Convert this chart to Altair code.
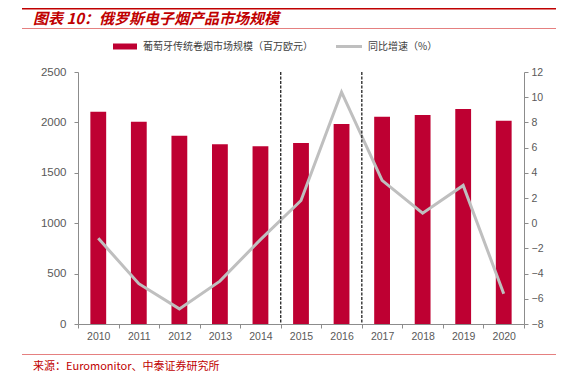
import altair as alt
import pandas as pd

years = [str(y) for y in range(2010, 2021)]
market = [2106, 2007, 1868, 1782, 1763, 1796, 1984, 2057, 2073, 2133, 2017]
growth = [-1.2, -4.8, -6.8, -4.6, -1.3, 1.8, 10.4, 3.4, 0.8, 3.0, -5.6]
split_years = ["2015", "2017"]
left_ticks = [0, 500, 1000, 1500, 2000, 2500]
right_ticks = [-8, -6, -4, -2, 0, 2, 4, 6, 8, 10, 12]

title_text = "图表 10：俄罗斯电子烟产品市场规模"
legend_bar = "葡萄牙传统卷烟市场规模（百万欧元）"
legend_line = "同比增速（%）"
source_text = "来源：Euromonitor、中泰证券研究所"

df = pd.DataFrame({"year": years, "market": market, "growth": growth})
splits = pd.DataFrame({"year": split_years})
dummy = pd.DataFrame({"a": [0]})

RED = "#BE0032"
GRAY_LINE = "#BFBFBF"
xscale = alt.Scale(domain=years, paddingInner=0, paddingOuter=0)

bars = alt.Chart(df).mark_bar(color=RED, width=alt.RelativeBandSize(0.39)).encode(
    x=alt.X("year:N", scale=xscale,
            axis=alt.Axis(title=None, labelAngle=0, tickBand="extent", labelFontSize=10.5,
                          labelPadding=3)),
    y=alt.Y("market:Q", scale=alt.Scale(domain=[0, 2500]),
            axis=alt.Axis(title=None, values=left_ticks, format="d", labelPadding=8,
                          labelFontSize=11.5)),
)

line = alt.Chart(df).mark_line(color=GRAY_LINE, strokeWidth=3).encode(
    x=alt.X("year:N", scale=xscale),
    y=alt.Y("growth:Q", scale=alt.Scale(domain=[-8, 12]),
            axis=alt.Axis(title=None, orient="right", values=right_ticks, format="d",
                          labelPadding=3, labelFontSize=10.5)),
)

rules = alt.Chart(splits).mark_rule(color="#222222", strokeDash=[3, 1.5], strokeWidth=1.3).encode(
    x=alt.X("year:N", scale=xscale, bandPosition=0),
)

base = alt.Chart(dummy)

title = base.mark_text(align="left", baseline="middle", font="Noto Sans CJK SC", fontSize=15,
                       fontWeight="bold", fontStyle="italic", color="#C00000").encode(
    x=alt.value(-45), y=alt.value(-53.5), text=alt.value(title_text))
top_line = base.mark_rule(color="#C00000", strokeWidth=1.5).encode(
    x=alt.value(-56), x2=alt.value(478), y=alt.value(-63.3))
under_line = base.mark_rule(color="#E58080", strokeWidth=1).encode(
    x=alt.value(-56), x2=alt.value(478), y=alt.value(-43.5))
foot_line = base.mark_rule(color="#E58080", strokeWidth=1).encode(
    x=alt.value(-56), x2=alt.value(478), y=alt.value(282.5))
source = base.mark_text(align="left", baseline="middle", font="Noto Sans CJK SC", fontSize=11,
                        color="#C00000").encode(
    x=alt.value(-45), y=alt.value(295), text=alt.value(source_text))

leg_swatch = base.mark_rect(color=RED).encode(
    x=alt.value(35), x2=alt.value(59), y=alt.value(-28.5), y2=alt.value(-22.5))
leg_text1 = base.mark_text(align="left", baseline="middle", font="Noto Sans CJK SC", fontSize=10,
                           color="#404040").encode(
    x=alt.value(65), y=alt.value(-25.5), text=alt.value(legend_bar))
leg_line = base.mark_rule(color=GRAY_LINE, strokeWidth=3).encode(
    x=alt.value(258), x2=alt.value(284), y=alt.value(-25.5))
leg_text2 = base.mark_text(align="left", baseline="middle", font="Noto Sans CJK SC", fontSize=10,
                           color="#404040").encode(
    x=alt.value(290), y=alt.value(-25.5), text=alt.value(legend_line))

chart = alt.layer(
    bars, line, rules, title, top_line, under_line, foot_line, source,
    leg_swatch, leg_text1, leg_line, leg_text2,
).resolve_scale(y="independent").properties(
    width=446, height=252,
    padding={"left": 70, "top": 64, "right": 32, "bottom": 49},
    autosize=alt.AutoSizeParams(type="none"),
).configure_view(stroke=None).configure_axis(
    grid=False, domainColor="#8C8C8C", tickColor="#8C8C8C", tickSize=4,
    labelColor="#595959", labelFont="Liberation Sans",
)

chart.save("out.html", embed_options={"renderer": "svg", "actions": False})
